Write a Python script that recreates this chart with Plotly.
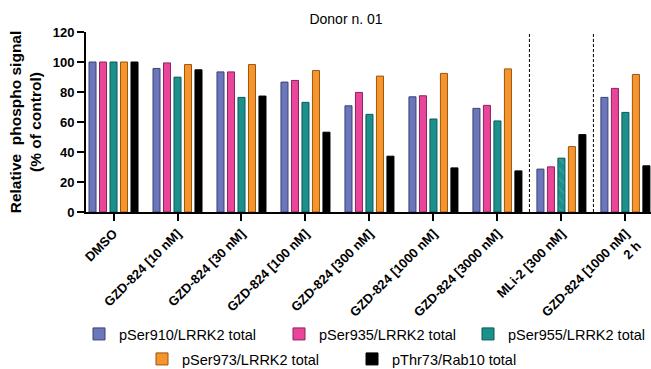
import plotly.graph_objects as go

categories = ["DMSO", "GZD-824 [10 nM]", "GZD-824 [30 nM]", "GZD-824 [100 nM]",
              "GZD-824 [300 nM]", "GZD-824 [1000 nM]", "GZD-824 [3000 nM]",
              "MLi-2 [300 nM]", "GZD-824 [1000 nM]<br>2 h"]

pSer910 = [100, 95.7, 93.4, 86.6, 70.8, 76.8, 69.1, 28.6, 76.4]
pSer935 = [100, 99.4, 93.4, 87.7, 79.7, 77.5, 71.1, 30.1, 82.4]
pSer955 = [100, 89.9, 76.4, 73.1, 65.1, 62.0, 60.7, 35.9, 66.4]
pSer973 = [100, 98.3, 98.3, 94.3, 90.6, 92.4, 95.4, 43.6, 91.7]
pThr73 = [100, 94.8, 77.3, 53.2, 37.2, 29.4, 27.4, 51.6, 30.8]

series_names = ["pSer910/LRRK2 total", "pSer935/LRRK2 total", "pSer955/LRRK2 total",
                "pSer973/LRRK2 total", "pThr73/Rab10 total"]
series_values = [pSer910, pSer935, pSer955, pSer973, pThr73]
fill_colors = ["#6c77b9", "#e9469b", "#1b918d", "#f7952d", "#000000"]
line_colors = ["#3a417a", "#8e2060", "#0d5855", "#9a5410", "#000000"]

FONT = "Arial, Liberation Sans, sans-serif"

fig = go.Figure()
legend_ids = ["legend", "legend2", "legend3", "legend4", "legend5"]
for i, (name, vals) in enumerate(zip(series_names, series_values)):
    pattern = None
    if i == 2:
        shapes_ = ["" for _ in categories]
        shapes_[7] = "\\"
        pattern = dict(shape=shapes_, fgcolor="#6fbcb8", size=7, solidity=0.15)
    fig.add_trace(go.Bar(
        x=list(range(len(categories))), y=vals, name=name,
        marker=dict(color=fill_colors[i], line=dict(color=line_colors[i], width=1),
                    pattern=pattern),
        legend=legend_ids[i], showlegend=True,
    ))

L, R, T, B = 86, 0, 32, 157
W, H = 651, 369

# legend text start positions (px) in the page
leg_pos = [(119, 334), (319, 334), (508, 334), (182, 359), (392, 359)]
legend_layouts = {}
for lid, (tx, ty) in zip(legend_ids, leg_pos):
    legend_layouts[lid] = dict(
        x=(tx - 40) / W, y=1 - ty / H, xref="container", yref="container",
        xanchor="left", yanchor="middle",
        orientation="h", bgcolor="rgba(0,0,0,0)", borderwidth=0,
        font=dict(family=FONT, size=14.5, color="#000"),
    )

shapes = []
for xv in [6.5, 7.5]:
    shapes.append(dict(type="line", xref="x", yref="y", x0=xv, x1=xv, y0=0, y1=120,
                       line=dict(color="#000", width=1, dash="3px,2px")))

fig.update_layout(
    width=W, height=H,
    margin=dict(l=L, r=R, t=T, b=B),
    paper_bgcolor="white", plot_bgcolor="white",
    barmode="group", bargap=0.18, bargroupgap=0.33,
    showlegend=True,
    title=dict(text="Donor n. 01", x=346 / W, xref="container", xanchor="center",
               y=1 - 19 / H, yref="container", yanchor="middle",
               font=dict(family=FONT, size=14, color="#000")),
    font=dict(family=FONT, color="#000"),
    shapes=shapes,
    **legend_layouts,
)
fig.update_xaxes(
    tickmode="array", tickvals=list(range(len(categories))), ticktext=categories,
    range=[-0.43, 8.40], tickangle=-45, automargin=False,
    showline=True, linecolor="#000", linewidth=2,
    ticks="outside", ticklen=7, tickwidth=1.5, tickcolor="#000",
    tickfont=dict(family=FONT, size=13, color="#000", weight="bold"),
    showgrid=False, zeroline=False,
)
fig.update_yaxes(
    range=[0, 120], tickvals=[0, 20, 40, 60, 80, 100, 120], automargin=False,
    showline=True, linecolor="#000", linewidth=2,
    ticks="outside", ticklen=7, tickwidth=1.5, tickcolor="#000",
    tickfont=dict(family=FONT, size=13, color="#000", weight="bold"),
    showgrid=False, zeroline=False,
    title=dict(text="Relative  phospho signal<br>(% of control)", standoff=7,
               font=dict(family=FONT, size=15.5, color="#000", weight="bold")),
)

fig.write_html("out.html", config={"displayModeBar": False},
               post_script="document.body.style.margin='0';")
